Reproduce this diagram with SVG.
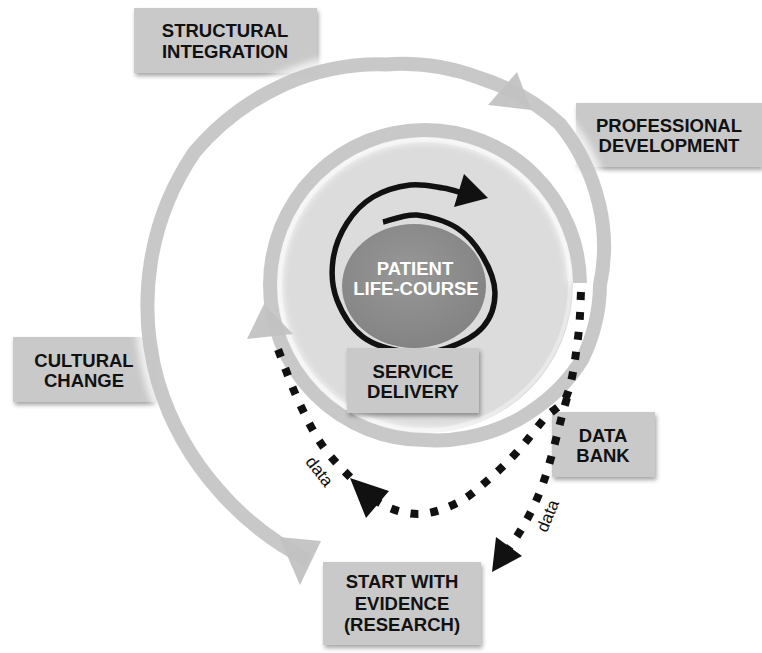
<svg xmlns="http://www.w3.org/2000/svg" width="762" height="653" viewBox="0 0 762 653">
<defs>
<style>
.box{fill:#c9c9c9;filter:url(#sh);}
.lbl{font-family:"Liberation Sans",Arial,Helvetica,sans-serif;font-weight:bold;font-size:18.5px;fill:#111;text-anchor:middle;}
.band{fill:none;stroke:#c2c2c2;stroke-width:14;stroke-linecap:butt;opacity:0.9;}
.glow{fill:none;stroke:#ffffff;stroke-width:26;opacity:0.7;filter:url(#bl);}
.bhead{fill:#c2c2c2;opacity:0.95;}
.dots{fill:none;stroke:#111;stroke-width:8;stroke-dasharray:8 12;}
.data{font-family:"Liberation Sans",Arial,Helvetica,sans-serif;font-size:17px;fill:#111;text-anchor:middle;}
</style>
<filter id="sh" x="-10%" y="-10%" width="130%" height="140%">
<feDropShadow dx="1.5" dy="3" stdDeviation="2" flood-color="#000" flood-opacity="0.35"/>
</filter>
<filter id="bl" x="-10%" y="-10%" width="120%" height="120%">
<feGaussianBlur stdDeviation="3"/>
</filter>
<radialGradient id="pg" cx="0.45" cy="0.4" r="0.65">
<stop offset="0" stop-color="#979797"/>
<stop offset="1" stop-color="#828282"/>
</radialGradient>
</defs>
<rect width="762" height="653" fill="#fff"/>

<g id="service-disk">
<circle cx="425" cy="285" r="148" fill="#dcdcdc"/>
<circle cx="425" cy="285" r="145" fill="none" stroke="#e9e9e9" stroke-width="4"/>
</g>

<g id="structural-integration">
<rect class="box" x="134" y="8" width="183" height="65"/>
<text class="lbl" x="225" y="37">STRUCTURAL</text>
<text class="lbl" x="225" y="58">INTEGRATION</text>
</g>
<g id="professional-development">
<rect class="box" x="576" y="103" width="186" height="64"/>
<text class="lbl" x="669" y="132">PROFESSIONAL</text>
<text class="lbl" x="669" y="152">DEVELOPMENT</text>
</g>
<g id="cultural-change">
<rect class="box" x="13" y="337" width="142" height="65"/>
<text class="lbl" x="84" y="367">CULTURAL</text>
<text class="lbl" x="84" y="387">CHANGE</text>
</g>
<g id="data-bank">
<rect class="box" x="552" y="412" width="103" height="65"/>
<text class="lbl" x="603" y="442">DATA</text>
<text class="lbl" x="603" y="462">BANK</text>
</g>
<g id="start-with-evidence">
<rect class="box" x="323" y="562" width="158" height="83"/>
<text class="lbl" x="402" y="588">START WITH</text>
<text class="lbl" x="402" y="609.5">EVIDENCE</text>
<text class="lbl" x="402" y="631">(RESEARCH)</text>
</g>

<g id="connectors">
<path class="glow" d="M308.2,560.2 A295,295 0 0 1 219.2,490.8 A288,288 0 0 1 158.1,382.1 A280,280 0 0 1 151,261 A270,270 0 0 1 194.6,152 A256,256 0 0 1 284.5,84.3 A235,235 0 0 1 386.1,64.4 A219,219 0 0 1 480.4,78.3 A212,212 0 0 1 560,124.1 A201,201 0 0 1 599,203.9 A183,183 0 0 1 600,285 A175,175 0 0 1 582.7,358.5 A170,170 0 0 1 531.1,411.4 A161,161 0 0 1 465.9,437.6 A156,156 0 0 1 425,440 A155,155 0 0 1 270,285 A155,155 0 0 1 425,130 A155,155 0 0 1 580,283"/>
<path class="band" d="M308.2,560.2 A295,295 0 0 1 219.2,490.8 A288,288 0 0 1 158.1,382.1 A280,280 0 0 1 151,261 A270,270 0 0 1 194.6,152 A256,256 0 0 1 284.5,84.3 A235,235 0 0 1 386.1,64.4 A219,219 0 0 1 480.4,78.3 A212,212 0 0 1 560,124.1 A201,201 0 0 1 599,203.9 A183,183 0 0 1 600,285 A175,175 0 0 1 582.7,358.5 A170,170 0 0 1 531.1,411.4 A161,161 0 0 1 465.9,437.6 A156,156 0 0 1 425,440 A155,155 0 0 1 270,285 A155,155 0 0 1 425,130 A155,155 0 0 1 580,283"/>
<polygon class="bhead" points="517,72 488,105 531,110"/>
<polygon class="bhead" points="321,541 300,585 279,537"/>
<polygon class="bhead" points="264,304 247,339 293,334"/>

<path class="dots" d="M581,292 C580.5,299.7 580.3,320.8 578,338 C575.7,355.2 572.5,381.7 567,395 C561.5,408.3 553.3,408.5 545,418 C536.7,427.5 526.5,441.7 517,452 C507.5,462.3 498,471.5 488,480 C478,488.5 468.7,497.3 457,503 C445.3,508.7 430.8,514 418,514 C405.2,514 391,509.7 380,503 C369,496.3 361.7,488.7 352,479 C342.3,469.3 331,458.2 322,445 C313,431.8 305.7,416.8 298,400 C290.3,383.2 279.7,353.3 276,344"/>
<path class="dots" d="M567,398 C558,428 552,460 541,489 C533,510 522,530 509,548"/>
<polygon fill="#111" points="350,478 389,491 366,518"/>
<polygon fill="#111" points="492,572 496,537 522,556"/>
<text class="data" transform="translate(315,475) rotate(52)">data</text>
<text class="data" transform="translate(553,518) rotate(-68)">data</text>
</g>

<g id="patient-life-course">
<ellipse cx="414" cy="286" rx="72" ry="62" fill="url(#pg)"/>
<path fill="none" stroke="#111" stroke-width="5.5" d="M383,222 C388.7,220.8 404.7,214 417,215 C429.3,216 446,221 457,228 C468,235 476.7,246.2 483,257 C489.3,267.8 495,281.3 495,293 C495,304.7 491,317.8 483,327 C475,336.2 459.7,343.8 447,348 C434.3,352.2 421,353.8 407,352 C393,350.2 374.7,345.7 363,337 C351.3,328.3 342,312.8 337,300 C332,287.2 331.3,272.8 333,260 C334.7,247.2 340.3,233.5 347,223 C353.7,212.5 362.5,203.3 373,197 C383.5,190.7 398.3,186.5 410,185 C421.7,183.5 434.3,186.7 443,188 C451.7,189.3 458.8,192.2 462,193"/>
<polygon fill="#111" points="488,198 464,174 454,207"/>
<text class="lbl" x="415" y="275" style="fill:#fff">PATIENT</text>
<text class="lbl" x="416" y="295" style="fill:#fff">LIFE-COURSE</text>
</g>

<g id="service-delivery">
<rect class="box" x="347" y="348" width="132" height="65"/>
<text class="lbl" x="413" y="378">SERVICE</text>
<text class="lbl" x="413" y="398">DELIVERY</text>
</g>
</svg>
